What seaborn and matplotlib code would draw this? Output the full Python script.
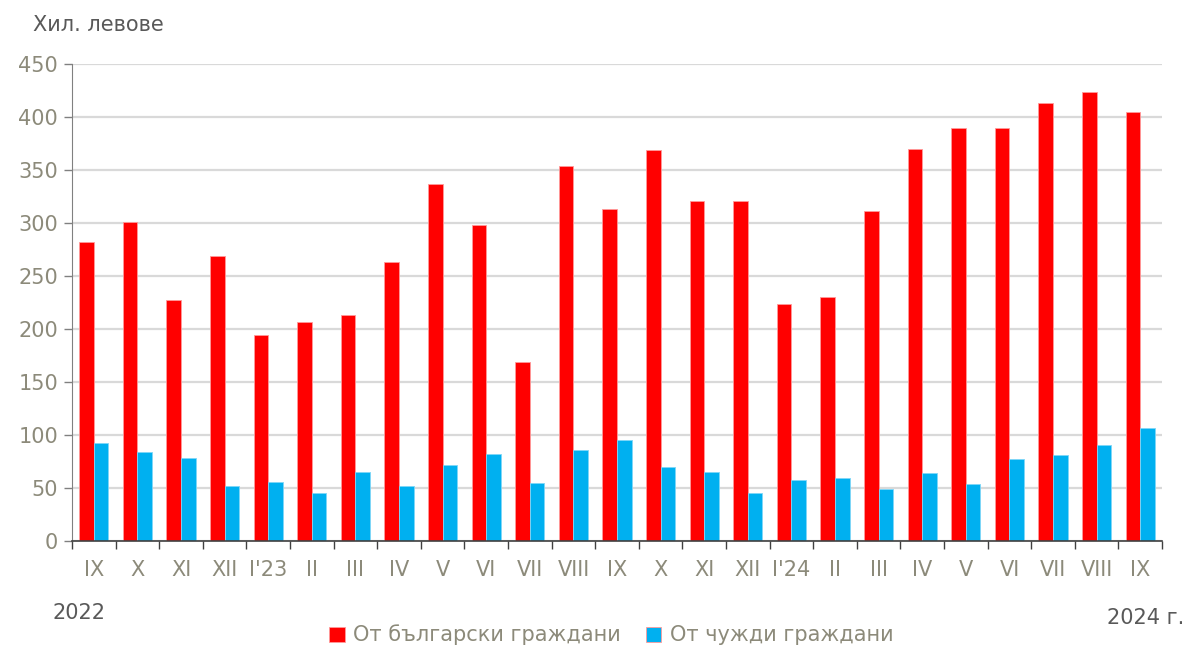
import matplotlib
matplotlib.use('Agg')

import matplotlib.pyplot as plt
import seaborn as sns
import pandas as pd
import numpy as np

months = ['IX', 'X', 'XI', 'XII', "I'23", 'II', 'III', 'IV', 'V', 'VI', 'VII', 'VIII',
          'IX ', 'X ', 'XI ', 'XII ', "I'24", 'II ', 'III ', 'IV ', 'V ', 'VI ', 'VII ', 'VIII ', 'IX  ']
bulgarian = [282, 301, 227, 269, 194, 207, 213, 263, 337, 298, 169, 354,
             313, 369, 321, 321, 224, 230, 311, 370, 390, 390, 413, 424, 405]
foreign = [92, 84, 78, 52, 56, 45, 65, 52, 72, 82, 55, 86,
           95, 70, 65, 45, 58, 59, 49, 64, 54, 77, 81, 91, 107]
series_names = ['От български граждани', 'От чужди граждани']
colors = ['#ff0000', '#00b0f0']

df = pd.DataFrame({
    'month': months * 2,
    'value': bulgarian + foreign,
    'series': [series_names[0]] * len(months) + [series_names[1]] * len(months),
})

sns.set_style('white')
plt.rcParams['font.family'] = ['DejaVu Sans']

tick_color = '#8c8a7a'
text_color = '#595959'

fig, ax = plt.subplots(figsize=(11.87, 6.46), dpi=100)
fig.subplots_adjust(left=0.0607, right=0.979, top=0.901, bottom=0.1625)

sns.barplot(data=df, x='month', y='value', hue='series', palette=colors,
            width=0.67, ax=ax, saturation=1, edgecolor='#ff9a9a', linewidth=0.6,
            legend=True)
for patch in ax.patches[len(months):2 * len(months)]:
    patch.set_edgecolor('#7fd6f7')

ax.set_xlim(-0.5, len(months) - 0.5)
ax.set_ylim(0, 450)
ax.set_yticks(np.arange(0, 451, 50))
ax.yaxis.grid(True, color='#d9d9d9', linewidth=1.6)
ax.set_axisbelow(True)
ax.set_xlabel('')
ax.set_ylabel('')

ax.set_xticks(range(len(months)))
ax.set_xticklabels([m.strip() for m in months])
ax.set_xticks(np.arange(-0.5, len(months)), minor=True)
ax.tick_params(axis='x', which='major', bottom=True, length=0, pad=14, labelsize=15, labelcolor=tick_color)
ax.tick_params(axis='x', which='minor', bottom=True, length=6, width=1, color='#404040', direction='out')
ax.tick_params(axis='y', left=True, length=6, width=1, color='#808080', labelsize=15, labelcolor=tick_color, pad=4)

for s in ['top', 'right']:
    ax.spines[s].set_visible(False)
ax.spines['left'].set_color('#808080')
ax.spines['bottom'].set_color('#404040')
ax.spines['bottom'].set_linewidth(1.2)

handles, labels = ax.get_legend_handles_labels()
ax.legend_.remove()
leg = fig.legend(handles, labels, loc='center', bbox_to_anchor=(0.515, 0.017), ncol=2,
                 frameon=False, fontsize=15, handlelength=0.75, handleheight=0.75,
                 handletextpad=0.4, columnspacing=1.2)
for t in leg.get_texts():
    t.set_color(tick_color)

fig.text(33 / 1187, 1 - 25 / 646, 'Хил. левове', fontsize=15, color=text_color, ha='left', va='center')
fig.text(52 / 1187, 1 - 613 / 646, '2022', fontsize=15, color=text_color, ha='left', va='center')
fig.text(1184 / 1187, 1 - 618 / 646, '2024 г.', fontsize=15, color=text_color, ha='right', va='center')

fig.savefig('out.png', dpi=100)
